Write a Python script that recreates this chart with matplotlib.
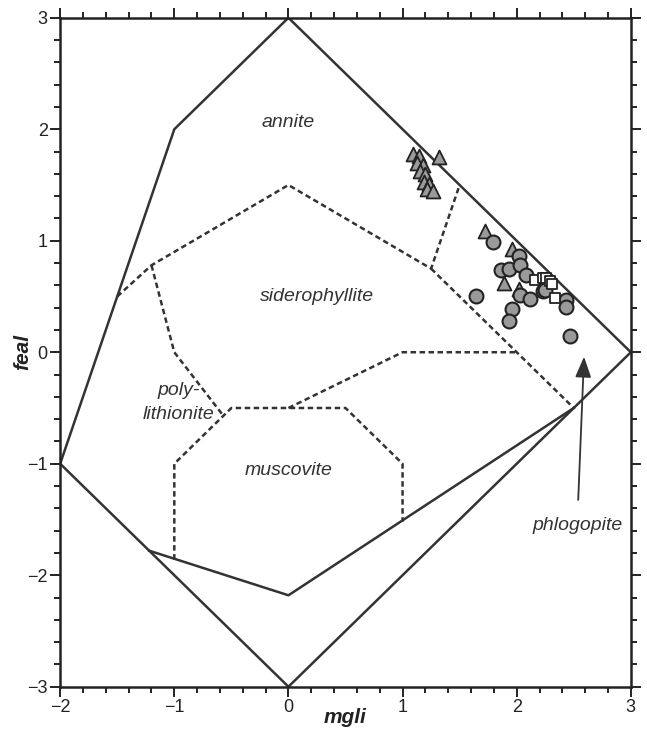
import matplotlib
matplotlib.use('Agg')
from matplotlib import pyplot as plt
from matplotlib.ticker import MultipleLocator

plt.rcParams['font.family'] = ['Liberation Sans', 'DejaVu Sans']

# field boundaries of the mgli-feal diagram (solid)
outer_x = [0, 3, 0, -2, -1, 0]
outer_y = [3, 0, -3, -1, 2, 3]
musc_x = [-1.22, 0, 2.5]
musc_y = [-1.78, -2.18, -0.5]

# field boundaries (dashed)
dashed_lines = [
    ([-1.5, -1.2, 0, 1.25, 1.5], [0.5, 0.78, 1.5, 0.75, 1.5]),
    ([1.25, 2.5], [0.75, -0.5]),
    ([0, 1, 2], [-0.5, 0, 0]),
    ([-1.2, -1, -0.57], [0.78, 0, -0.57]),
    ([-1, -1, -0.5, 0.5, 1, 1], [-1.86, -1, -0.5, -0.5, -1, -1.52]),
]

# samples
tri_x = [1.09, 1.14, 1.13, 1.18, 1.15, 1.20, 1.19, 1.23, 1.21, 1.27, 1.32,
         1.72, 1.96, 1.89, 2.02]
tri_y = [1.78, 1.76, 1.70, 1.68, 1.63, 1.60, 1.53, 1.51, 1.46, 1.45, 1.75,
         1.09, 0.93, 0.62, 0.57]

circ_x = [1.79, 2.02, 1.86, 1.93, 2.03, 2.08, 1.64, 2.03, 2.12, 2.23, 2.25,
          1.96, 1.93, 2.43, 2.43, 2.47]
circ_y = [0.99, 0.86, 0.74, 0.75, 0.78, 0.69, 0.50, 0.51, 0.48, 0.55, 0.56,
          0.39, 0.28, 0.47, 0.41, 0.15]

sq_x = [2.16, 2.23, 2.26, 2.29, 2.31, 2.34]
sq_y = [0.65, 0.67, 0.67, 0.64, 0.61, 0.49]

field_names = ['annite', 'siderophyllite', 'poly-\nlithionite', 'muscovite']
field_x = [0, 0.25, -0.96, 0]
field_y = [2.06, 0.5, -0.45, -1.06]

ink = '#333333'

fig, ax = plt.subplots(figsize=(6.47, 7.4), dpi=100)
fig.subplots_adjust(left=0.093, right=0.975, bottom=0.072, top=0.976)

ax.plot(outer_x, outer_y, color=ink, lw=1.8, solid_joinstyle='miter')
ax.plot(musc_x, musc_y, color=ink, lw=1.8)
for xs, ys in dashed_lines:
    ax.plot(xs, ys, color=ink, lw=1.8, ls=(0, (2.2, 1.4)))

ax.scatter(tri_x, tri_y, marker='^', s=100, facecolor='#9a9a9a',
           edgecolor='#222222', linewidth=1.3, zorder=3)
ax.scatter(circ_x, circ_y, marker='o', s=100, facecolor='#9a9a9a',
           edgecolor='#222222', linewidth=1.5, zorder=4)
ax.scatter(sq_x, sq_y, marker='s', s=50, facecolor='white',
           edgecolor='#222222', linewidth=1.3, zorder=5)

for name, x, y in zip(field_names, field_x, field_y):
    ax.text(x, y, name, style='italic', fontsize=14, color=ink,
            ha='center', va='center', linespacing=1.5)

ax.annotate('phlogopite', xy=(2.59, -0.04), xytext=(2.53, -1.55),
            style='italic', fontsize=14, color=ink, ha='center', va='center',
            arrowprops=dict(arrowstyle='-|>,head_length=0.9,head_width=0.35',
                            color=ink, lw=1.3, shrinkA=10, shrinkB=0))

ax.set_xlim(-2, 3)
ax.set_ylim(-3, 3)
ax.xaxis.set_major_locator(MultipleLocator(1))
ax.xaxis.set_minor_locator(MultipleLocator(0.2))
ax.yaxis.set_major_locator(MultipleLocator(1))
ax.yaxis.set_minor_locator(MultipleLocator(0.2))
ax.tick_params(which='both', direction='out', top=True, right=True,
               color='#222222', width=1.4, labelsize=13, labelcolor='#222222')
ax.tick_params(which='major', length=7, pad=2)
ax.tick_params(which='minor', length=4)
for sp in ax.spines.values():
    sp.set_linewidth(1.8)
    sp.set_color('#222222')

ax.set_xlabel('mgli', fontsize=15, fontweight='bold', style='italic',
              labelpad=-6, color='#222222')
ax.set_ylabel('feal', fontsize=15, fontweight='bold', style='italic',
              labelpad=-4, color='#222222')

plt.savefig('out.png', dpi=100)
